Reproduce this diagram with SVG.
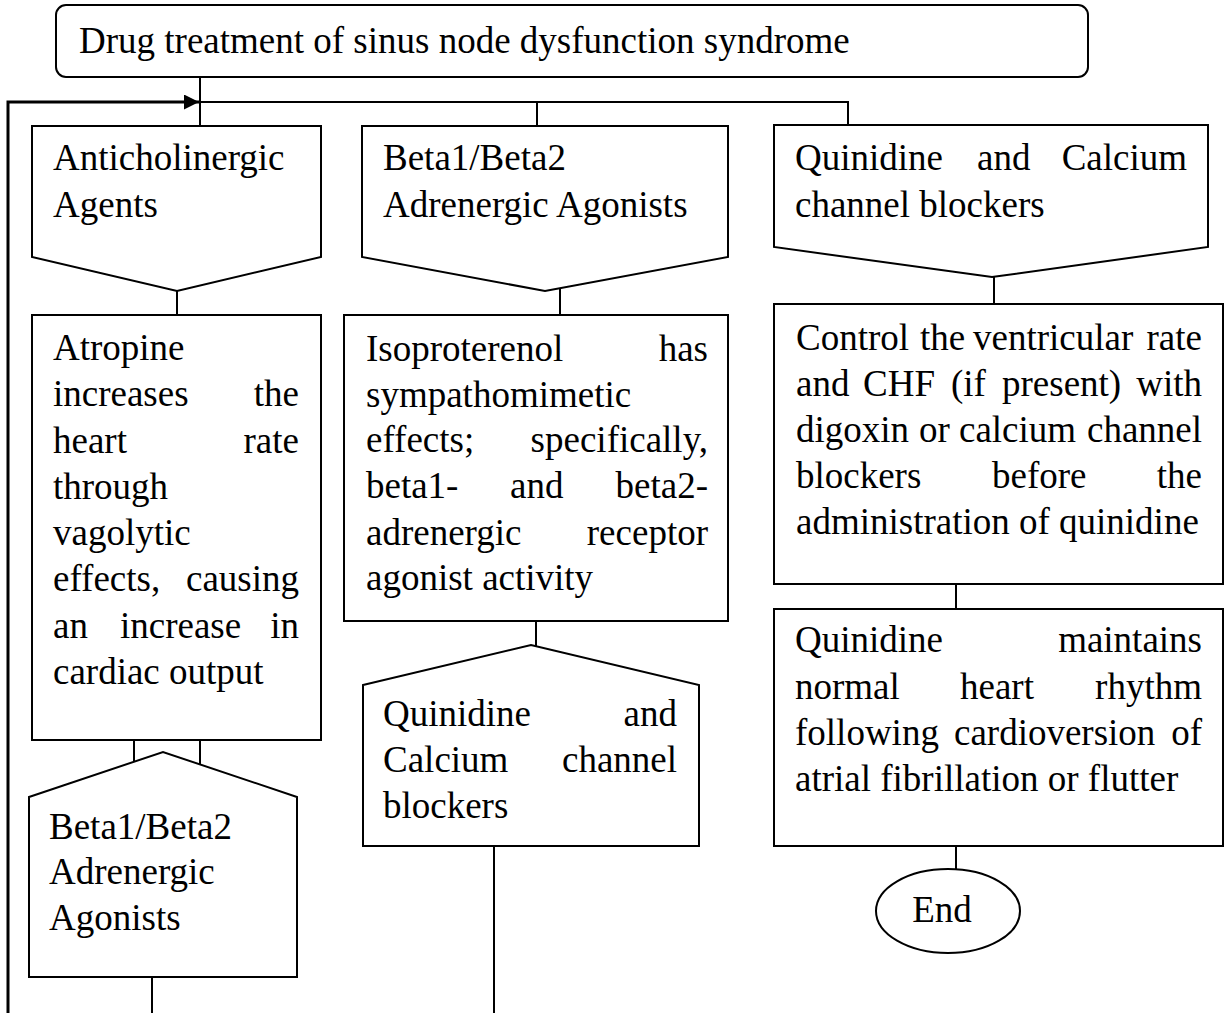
<svg xmlns="http://www.w3.org/2000/svg" width="1230" height="1013" viewBox="0 0 1230 1013">
<style>
.s{fill:#fff;stroke:#000;stroke-width:2}
.c{fill:none;stroke:#000;stroke-width:2}
.loop{fill:none;stroke:#000;stroke-width:3}
text{font-family:"Liberation Serif","Times New Roman",serif;font-size:37px;fill:#000}
.e{text-anchor:end}
</style>
<defs>
<marker id="arr" viewBox="0 0 10 10" refX="10" refY="5" markerWidth="5" markerHeight="5" orient="auto" markerUnits="strokeWidth">
<path d="M0,0 L10,5 L0,10 z" fill="#000"/>
</marker>
</defs>
<rect width="1230" height="1013" fill="#fff"/>
<g id="connectors">
<path class="c" d="M200,77 V125"/>
<path class="c" d="M200,102 H848 V125"/>
<path class="c" d="M537,102 V125"/>
<path class="loop" d="M8,1013 V102 H199" marker-end="url(#arr)"/>
<path class="c" d="M177,290 V315"/>
<path class="c" d="M134,740 V762"/>
<path class="c" d="M200,740 V764"/>
<path class="c" d="M152,977 V1013"/>
<path class="c" d="M560,288 V315"/>
<path class="c" d="M536,621 V646"/>
<path class="c" d="M494,846 V1013"/>
<path class="c" d="M994,277 V304"/>
<path class="c" d="M956,584 V609"/>
<path class="c" d="M956,846 V869"/>
</g>
<g id="title">
<rect class="s" x="56" y="5" width="1032" height="72" rx="10"/>
<text x="79" y="53">Drug treatment of sinus node dysfunction syndrome</text>
</g>
<g id="anticholinergic">
<polygon class="s" points="32,126 321,126 321,257 177,291 32,257"/>
<text x="53" y="170">Anticholinergic</text>
<text x="53" y="217">Agents</text>
</g>
<g id="atropine">
<rect class="s" x="32" y="315" width="289" height="425"/>
<text x="53" y="360">Atropine</text>
<text x="53" y="406">increases</text><text class="e" x="299" y="406">the</text>
<text x="53" y="453">heart</text><text class="e" x="299" y="453">rate</text>
<text x="53" y="499">through</text>
<text x="53" y="545">vagolytic</text>
<text x="53" y="591">effects,</text><text class="e" x="299" y="591">causing</text>
<text x="53" y="638">an</text><text x="120" y="638">increase</text><text class="e" x="299" y="638">in</text>
<text x="53" y="684">cardiac output</text>
</g>
<g id="beta-left">
<polygon class="s" points="29,797 163,752 297,797 297,977 29,977"/>
<text x="49" y="839">Beta1/Beta2</text>
<text x="49" y="884">Adrenergic</text>
<text x="49" y="930">Agonists</text>
</g>
<g id="beta-mid">
<polygon class="s" points="362,126 728,126 728,257 545,291 362,257"/>
<text x="383" y="170">Beta1/Beta2</text>
<text x="383" y="217">Adrenergic Agonists</text>
</g>
<g id="isoproterenol">
<rect class="s" x="344" y="315" width="384" height="306"/>
<text x="366" y="361">Isoproterenol</text><text class="e" x="708" y="361">has</text>
<text x="366" y="407">sympathomimetic</text>
<text x="366" y="452">effects;</text><text class="e" x="708" y="452">specifically,</text>
<text x="366" y="498">beta1-</text><text x="510" y="498">and</text><text class="e" x="708" y="498">beta2-</text>
<text x="366" y="545">adrenergic</text><text class="e" x="708" y="545">receptor</text>
<text x="366" y="590">agonist activity</text>
</g>
<g id="quinidine-mid">
<polygon class="s" points="363,685 531,645 699,685 699,846 363,846"/>
<text x="383" y="726">Quinidine</text><text class="e" x="677" y="726">and</text>
<text x="383" y="772">Calcium</text><text class="e" x="677" y="772">channel</text>
<text x="383" y="818">blockers</text>
</g>
<g id="quinidine-right">
<polygon class="s" points="774,125 1208,125 1208,247 992,277 774,247"/>
<text x="795" y="170">Quinidine</text><text x="977" y="170">and</text><text class="e" x="1187" y="170">Calcium</text>
<text x="795" y="217">channel blockers</text>
</g>
<g id="control">
<rect class="s" x="774" y="304" width="449" height="280"/>
<text x="796" y="350">Control</text><text x="920" y="350">the</text><text x="973" y="350">ventricular</text><text class="e" x="1202" y="350">rate</text>
<text x="796" y="396">and</text><text x="863" y="396">CHF</text><text x="951" y="396">(if</text><text x="1002" y="396">present)</text><text class="e" x="1202" y="396">with</text>
<text x="796" y="442">digoxin</text><text x="919" y="442">or</text><text x="959" y="442">calcium</text><text class="e" x="1202" y="442">channel</text>
<text x="796" y="488">blockers</text><text x="992" y="488">before</text><text class="e" x="1202" y="488">the</text>
<text x="796" y="534">administration of quinidine</text>
</g>
<g id="maintains">
<rect class="s" x="774" y="609" width="449" height="237"/>
<text x="795" y="652">Quinidine</text><text class="e" x="1202" y="652">maintains</text>
<text x="795" y="699">normal</text><text x="960" y="699">heart</text><text class="e" x="1202" y="699">rhythm</text>
<text x="795" y="745">following</text><text x="954" y="745">cardioversion</text><text class="e" x="1202" y="745">of</text>
<text x="795" y="791">atrial fibrillation or flutter</text>
</g>
<g id="end">
<ellipse class="s" cx="948" cy="911" rx="72" ry="42"/>
<text x="942" y="922" text-anchor="middle">End</text>
</g>
</svg>
